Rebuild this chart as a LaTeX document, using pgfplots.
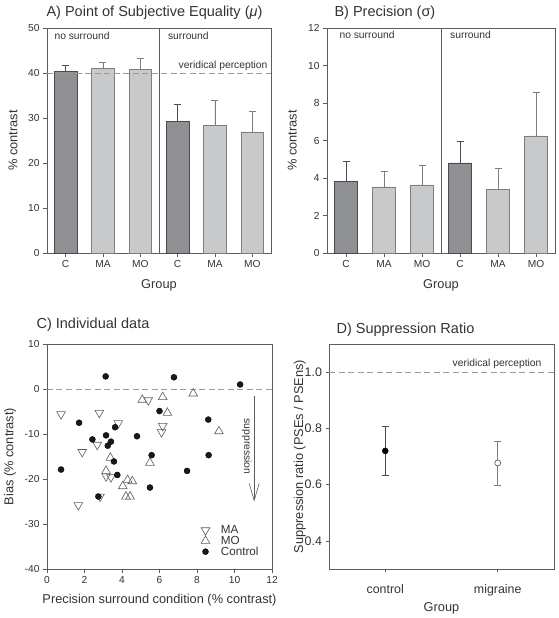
\documentclass[border=0pt]{standalone}
\usepackage{fontspec}
\setmainfont{Liberation Sans}
\usepackage{pgfplots}
\pgfplotsset{compat=1.18}
\usetikzlibrary{arrows.meta}
\definecolor{darkbar}{HTML}{8E9094}
\definecolor{lightbar}{HTML}{C8C9CB}
\definecolor{darkedge}{HTML}{4A4A4A}
\definecolor{lightedge}{HTML}{7E7E7E}
\definecolor{axgray}{HTML}{5C5C5C}
\definecolor{dashgray}{HTML}{9A9A9A}
\definecolor{txtgray}{HTML}{333333}
\newcommand{\fs}[1]{\fontsize{#1}{#1}\selectfont}
\tikzset{intext/.style={font=\fs{10.3}, text=txtgray}}
\pgfplotsset{
  base/.style={
    scale only axis, anchor=south west, clip=false,
    axis line style={axgray, line width=0.8pt},
    tick align=outside, tick pos=left,
    major tick length=4pt,
    major tick style={axgray, line width=0.7pt},
    tick label style={font=\fs{10.2}, text=txtgray},
    label style={font=\fs{12.8}, text=txtgray},
    /pgf/number format/assume math mode=true,
  },
  bars/.style={base, width=#1, height=225pt, xmin=0.5, xmax=6.5, ymin=0,
    xtick={1,2,3,4,5,6}, xticklabels={C,MA,MO,C,MA,MO},
    xlabel={Group}, ylabel={\% contrast},
    xlabel style={at={(axis description cs:0.5,-0.142)}, anchor=center},
    ylabel style={at={(axis description cs:-0.152,0.5)}, anchor=center},
  },
  dbar/.style={ybar, bar width=0.6, bar shift=0pt, fill=darkbar, draw=darkedge, line width=0.7pt,
    error bars/.cd, y dir=plus, y explicit,
    error bar style={darkedge, line width=0.7pt},
    error mark options={rotate=90, darkedge, line width=0.7pt, mark size=3.5pt}},
  lbar/.style={ybar, bar width=0.6, bar shift=0pt, fill=lightbar, draw=lightedge, line width=0.7pt,
    error bars/.cd, y dir=plus, y explicit,
    error bar style={lightedge, line width=0.7pt},
    error mark options={rotate=90, lightedge, line width=0.7pt, mark size=3.5pt}},
}
\begin{document}
\begin{tikzpicture}
\useasboundingbox (0,0) rectangle (558pt,618pt);
% titles
\node[anchor=base west, font=\fs{14.5}, text=txtgray] at (43pt,601.3pt) {A) Point of Subjective Equality (\textit{μ})};
\node[anchor=base west, font=\fs{14.5}, text=txtgray] at (331pt,601.3pt) {B) Precision (σ)};
\node[anchor=base west, font=\fs{14.5}, text=txtgray] at (33pt,289pt) {C) Individual data};
\node[anchor=base west, font=\fs{14.5}, text=txtgray] at (333pt,284.7pt) {D) Suppression Ratio};

% Panel A
\begin{axis}[bars=224pt, at={(47pt,365pt)}, ymax=50, ytick={0,10,20,30,40,50}]
\addplot[dbar] coordinates {(1,40.4) +- (0,1.2) (4,29.2) +- (0,3.8)};
\addplot[lbar] coordinates {(2,41.1) +- (0,1.35) (3,40.8) +- (0,2.5) (5,28.4) +- (0,5.6) (6,26.9) +- (0,4.6)};
\draw[axgray, line width=0.8pt] (axis cs:3.5,0) -- (axis cs:3.5,50);
\draw[dashgray, line width=0.8pt, dash pattern=on 6pt off 3.5pt] (axis cs:0.5,40) -- (axis cs:6.5,40);
\node[intext, anchor=base east, yshift=4pt] at (axis cs:6.5,40) {veridical perception};
\node[intext, anchor=base west, xshift=4pt, yshift=-11.3pt] at (rel axis cs:0,1) {no surround};
\node[intext, anchor=base west, xshift=5.5pt, yshift=-11.3pt] at (axis cs:3.5,50) {surround};
\end{axis}

% Panel B
\begin{axis}[bars=228pt, at={(327pt,365pt)}, ymax=12, ytick={0,2,4,6,8,10,12}]
\addplot[dbar] coordinates {(1,3.8) +- (0,1.07) (4,4.8) +- (0,1.18)};
\addplot[lbar] coordinates {(2,3.52) +- (0,0.84) (3,3.63) +- (0,1.06) (5,3.41) +- (0,1.11) (6,6.24) +- (0,2.31)};
\draw[axgray, line width=0.8pt] (axis cs:3.5,0) -- (axis cs:3.5,12);
\node[intext, anchor=base west, xshift=9pt, yshift=-11pt] at (rel axis cs:0,1) {no surround};
\node[intext, anchor=base west, xshift=5.7pt, yshift=-11pt] at (axis cs:3.5,12) {surround};
\end{axis}

% Panel C
\begin{axis}[base, width=225pt, height=225pt, at={(47pt,49pt)},
  xmin=0, xmax=12, ymin=-40, ymax=10,
  xtick={0,2,4,6,8,10,12}, ytick={-40,-30,-20,-10,0,10},
  xlabel={Precision surround condition (\% contrast)}, ylabel={Bias (\% contrast)},
  xlabel style={at={(axis description cs:0.5,-0.138)}, anchor=center},
  ylabel style={at={(axis description cs:-0.164,0.5)}, anchor=center},
  legend style={draw=none, fill=none, at={(rel axis cs:0.95,0.045)}, anchor=south east,
    font=\fs{11.7}, text=txtgray, row sep=-3pt, inner sep=0pt,
    /tikz/every odd column/.append style={column sep=9pt}},
  legend cell align=left,
]
\addplot[only marks, mark=triangle, mark size=5pt, mark options={rotate=180, draw=axgray, line width=0.6pt}]
 coordinates {(0.75,-5.6) (2.79,-5.3) (3.8,-7.6) (2.68,-12.4) (1.88,-14.0) (3.15,-19.4) (3.41,-19.6)
 (2.83,-23.9) (1.67,-25.8) (5.4,-2.5) (6.17,-8.2) (6.11,-9.6)};
\addplot[only marks, mark=triangle, mark size=5pt, mark options={draw=axgray, line width=0.6pt}]
 coordinates {(3.38,-15.3) (3.15,-18.2) (4.3,-20.2) (4.55,-20.5) (4.04,-21.6) (4.21,-23.9) (4.43,-23.9)
 (5.49,-16.4) (5.08,-2.4) (6.17,-1.8) (7.8,-1.0) (6.42,-5.3) (9.17,-9.4)};
\addplot[only marks, mark=*, mark size=3pt, mark options={draw=black, fill=black!90}]
 coordinates {(3.13,2.8) (6.77,2.6) (10.3,1.0) (1.71,-7.5) (6.0,-4.9) (8.6,-6.8) (3.63,-8.5) (3.15,-10.3)
 (2.42,-11.2) (3.41,-11.7) (3.24,-12.6) (4.8,-10.5) (5.58,-14.7) (8.62,-14.7) (3.57,-16.1) (0.75,-17.9)
 (3.75,-19.1) (7.47,-18.2) (5.49,-21.9) (2.74,-23.9)};
\legend{MA,MO,Control}
\draw[dashgray, line width=0.8pt, dash pattern=on 6pt off 3.5pt] (axis cs:0,0) -- (axis cs:12,0);
\draw[axgray, line width=0.6pt, -{Straight Barb[length=17pt,width=10pt]}] (axis cs:11.05,-1.6) -- (axis cs:11.05,-25);
\node[intext, rotate=-90] at (axis cs:10.65,-12.8) {suppression};
\end{axis}

% Panel D
\begin{axis}[base, width=225pt, height=225pt, at={(329pt,49pt)},
  xmin=0.5, xmax=2.5, ymin=0.3, ymax=1.1,
  xtick={1,2}, xticklabels={control,migraine}, ytick={0.4,0.6,0.8,1.0},
  tick label style={font=\fs{12.4}, text=txtgray},
  xticklabel style={yshift=-8pt},
  yticklabel style={/pgf/number format/.cd, fixed, fixed zerofill, precision=1},
  major tick length=3.5pt,
  xlabel={Group}, ylabel={Suppression ratio (PSEs / PSEns)},
  xlabel style={at={(axis description cs:0.5,-0.173)}, anchor=center},
  ylabel style={at={(axis description cs:-0.13,0.5)}, anchor=center},
]
\draw[dashgray, line width=0.8pt, dash pattern=on 6pt off 3.5pt] (axis cs:0.5,1.0) -- (axis cs:2.5,1.0);
\node[intext, anchor=base east, xshift=-9pt, yshift=6pt] at (axis cs:2.5,1.0) {veridical perception};
\addplot[only marks, mark=*, mark size=3pt, mark options={draw=black, fill=black},
  error bars/.cd, y dir=both, y explicit, error bar style={darkedge, line width=0.7pt},
  error mark options={rotate=90, darkedge, line width=0.7pt, mark size=3.5pt}]
  coordinates {(1,0.72) +- (0,0.087)};
\addplot[only marks, mark=*, mark size=3pt, mark options={draw=darkedge, fill=white, line width=0.6pt},
  error bars/.cd, y dir=both, y explicit, error bar style={lightedge, line width=0.7pt},
  error mark options={rotate=90, lightedge, line width=0.7pt, mark size=3.5pt}]
  coordinates {(2,0.677) +- (0,0.078)};
\end{axis}
\end{tikzpicture}
\end{document}
